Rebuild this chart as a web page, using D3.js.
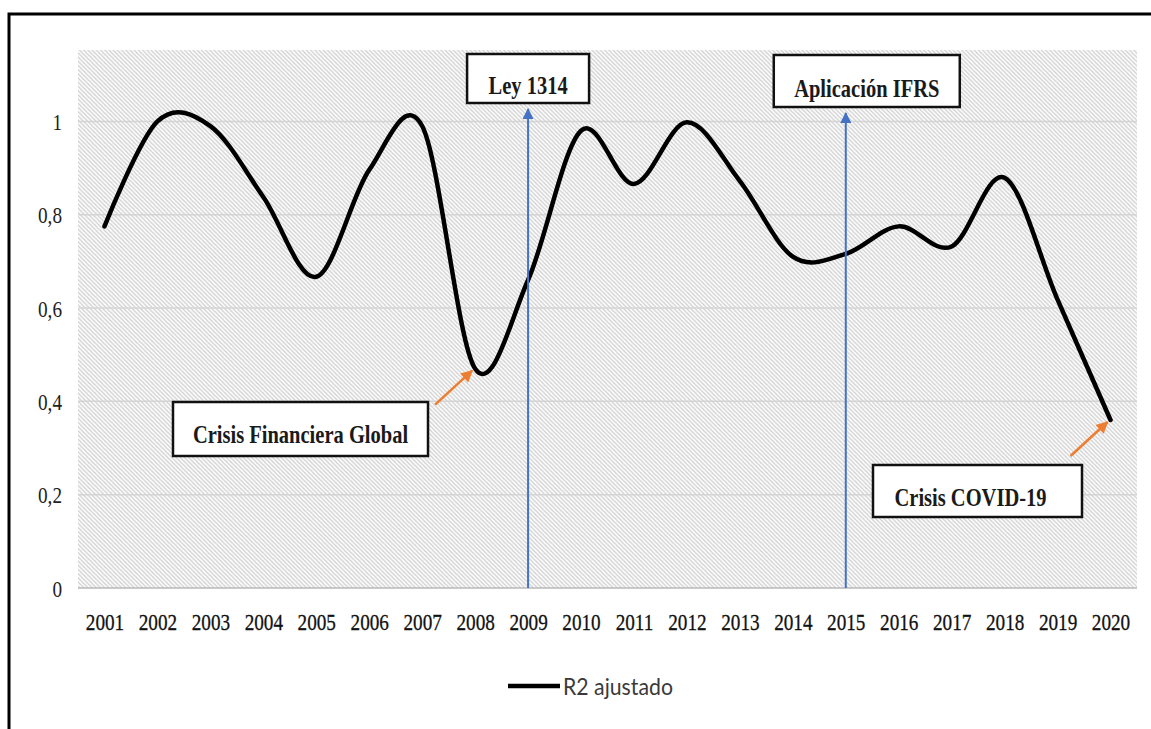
<!DOCTYPE html>
<html>
<head>
<meta charset="utf-8">
<script src="https://cdn.jsdelivr.net/npm/d3@7"></script>
<style>
  html, body { margin: 0; padding: 0; background: #fff; overflow: hidden; }
  svg { display: block; }
</style>
</head>
<body>
<svg id="chart" width="1151" height="729"></svg>
<script>
// ---- data ----
const years = ["2001","2002","2003","2004","2005","2006","2007","2008","2009","2010",
               "2011","2012","2013","2014","2015","2016","2017","2018","2019","2020"];
const r2Ajustado = [0.775, 1.0, 0.99, 0.838, 0.667, 0.896, 0.99, 0.47, 0.66, 0.98,
                    0.866, 0.998, 0.872, 0.71, 0.716, 0.775, 0.732, 0.879, 0.618, 0.36];
const yTickValues = [0, 0.2, 0.4, 0.6, 0.8, 1];
const yTickLabels = ["0", "0,2", "0,4", "0,6", "0,8", "1"];
const seriesName = "R2 ajustado";
const milestoneLabels = ["Ley 1314", "Aplicación IFRS"];
const milestoneYears = ["2009", "2015"];
const crisisLabels = ["Crisis Financiera Global", "Crisis COVID-19"];
const crisisYears = ["2008", "2020"];

// ---- layout ----
const svg = d3.select("#chart");
const plot = { left: 78, right: 1137, top: 50, bottom: 588 };

const x = d3.scalePoint().domain(years).range([plot.left, plot.right]).padding(0.5);
const y = d3.scaleLinear().domain([0, 1.153]).range([plot.bottom, plot.top]);

const defs = svg.append("defs");
const pat = defs.append("pattern")
  .attr("id", "hatch").attr("patternUnits", "userSpaceOnUse")
  .attr("width", 4.2).attr("height", 4.2);
pat.append("rect").attr("width", 4.2).attr("height", 4.2).attr("fill", "#fcfcfc");
pat.append("path")
  .attr("d", "M-1,-1 L5.2,5.2 M-1,3.2 L1,5.2 M3.2,-1 L5.2,1")
  .attr("stroke", "#cdcdcd").attr("stroke-width", 1.15);

function marker(id, color, w, h) {
  defs.append("marker")
    .attr("id", id).attr("viewBox", "0 0 10 10")
    .attr("refX", 9).attr("refY", 5)
    .attr("markerUnits", "userSpaceOnUse")
    .attr("markerWidth", w).attr("markerHeight", h)
    .attr("orient", "auto")
    .append("path").attr("d", "M0,0 L10,5 L0,10 Z").attr("fill", color);
}
marker("arrBlue", "#4472c4", 14, 11);
marker("arrOrange", "#ed7d31", 14, 12);

// page background & frame (top and left edges only)
svg.append("rect").attr("width", 1151).attr("height", 729).attr("fill", "#fff");
svg.append("path")
  .attr("d", "M9,729 L9,14 L1151,14")
  .attr("fill", "none").attr("stroke", "#000").attr("stroke-width", 3);

// plot area
svg.append("rect")
  .attr("x", plot.left).attr("y", plot.top)
  .attr("width", plot.right - plot.left).attr("height", plot.bottom - plot.top)
  .attr("fill", "url(#hatch)");

// gridlines
svg.append("g").selectAll("line").data(yTickValues).join("line")
  .attr("x1", plot.left).attr("x2", plot.right)
  .attr("y1", d => y(d)).attr("y2", d => y(d))
  .attr("stroke", d => d === 0 ? "#b8b8b8" : "#d4d4d4")
  .attr("stroke-width", 1.5);

// axes
const textFont = "'Liberation Serif', 'Times New Roman', serif";
const xAxis = svg.append("g")
  .attr("transform", `translate(0,${plot.bottom})`)
  .call(d3.axisBottom(x).tickSize(0).tickPadding(0));
xAxis.select(".domain").remove();
xAxis.selectAll("text")
  .attr("y", 0).attr("dy", 0)
  .attr("transform", "translate(0,42) scale(0.8,1)")
  .attr("font-family", textFont).attr("font-size", 24)
  .attr("fill", "#111").attr("stroke", "#111").attr("stroke-width", 0.3);

const yAxis = svg.append("g")
  .attr("transform", `translate(62,0)`)
  .call(d3.axisLeft(y).tickValues(yTickValues)
        .tickFormat((d, i) => yTickLabels[i]).tickSize(0).tickPadding(0));
yAxis.select(".domain").remove();
yAxis.selectAll("text")
  .attr("x", 0).attr("dy", "0.34em")
  .attr("transform", "scale(0.8,1)")
  .attr("text-anchor", "end")
  .attr("font-family", textFont).attr("font-size", 24)
  .attr("fill", "#1e1e1e");

// series line
const line = d3.line()
  .x((d, i) => x(years[i]))
  .y(d => y(d))
  .curve(d3.curveCardinal.tension(0));
svg.append("path")
  .datum(r2Ajustado)
  .attr("d", line)
  .attr("fill", "none").attr("stroke", "#000")
  .attr("stroke-width", 4.5).attr("stroke-linecap", "round").attr("stroke-linejoin", "round");

// milestone arrows + boxes
const milestoneBoxes = [
  { w: 122, h: 49, top: 54, baseline: 94 },
  { w: 186, h: 52, top: 55, baseline: 97 }
];
milestoneYears.forEach((yr, i) => {
  const cx = x(yr);
  const b = milestoneBoxes[i];
  svg.append("line")
    .attr("x1", cx).attr("x2", cx)
    .attr("y1", y(0)).attr("y2", b.top + b.h + 6)
    .attr("stroke", "#4472c4").attr("stroke-width", 2)
    .attr("marker-end", "url(#arrBlue)");
  const bx = i === 0 ? cx - b.w / 2 : cx - 72;
  svg.append("rect")
    .attr("x", bx).attr("y", b.top).attr("width", b.w).attr("height", b.h)
    .attr("fill", "#fff").attr("stroke", "#111").attr("stroke-width", 2.5);
  svg.append("text")
    .attr("transform", `translate(${bx + b.w / 2},${b.baseline}) scale(0.82,1)`)
    .attr("text-anchor", "middle")
    .attr("font-family", textFont).attr("font-weight", "bold").attr("font-size", 25)
    .attr("fill", "#1a1a1a")
    .text(milestoneLabels[i]);
});

// crisis annotations
const crisisBoxes = [
  { x: 173, y: 402, w: 255, h: 54, baseline: 443 },
  { x: 873, y: 465, w: 209, h: 52, baseline: 506 }
];
crisisYears.forEach((yr, i) => {
  const idx = years.indexOf(yr);
  const hx = x(yr) - 3, hy = y(r2Ajustado[idx]) + 2;
  svg.append("line")
    .attr("x1", hx - 37).attr("y1", hy + 34)
    .attr("x2", hx).attr("y2", hy)
    .attr("stroke", "#ed7d31").attr("stroke-width", 2.5)
    .attr("marker-end", "url(#arrOrange)");
  const b = crisisBoxes[i];
  svg.append("rect")
    .attr("x", b.x).attr("y", b.y).attr("width", b.w).attr("height", b.h)
    .attr("fill", "#fff").attr("stroke", "#111").attr("stroke-width", 2.5);
  svg.append("text")
    .attr("transform", `translate(${b.x + b.w / 2 - (i === 1 ? 7 : 0)},${b.baseline}) scale(0.82,1)`)
    .attr("text-anchor", "middle")
    .attr("font-family", textFont).attr("font-weight", "bold").attr("font-size", 25)
    .attr("fill", "#1a1a1a")
    .text(crisisLabels[i]);
});

// legend
const lg = svg.append("g");
lg.append("line")
  .attr("x1", 508).attr("x2", 560).attr("y1", 686).attr("y2", 686)
  .attr("stroke", "#000").attr("stroke-width", 4.5);
lg.append("text")
  .attr("x", 563).attr("y", 695)
  .attr("font-family", "Lato, 'Open Sans', sans-serif").attr("font-size", 24)
  .attr("textLength", 110).attr("lengthAdjust", "spacingAndGlyphs")
  .attr("fill", "#3a3a3a")
  .text(seriesName);
</script>
</body>
</html>
